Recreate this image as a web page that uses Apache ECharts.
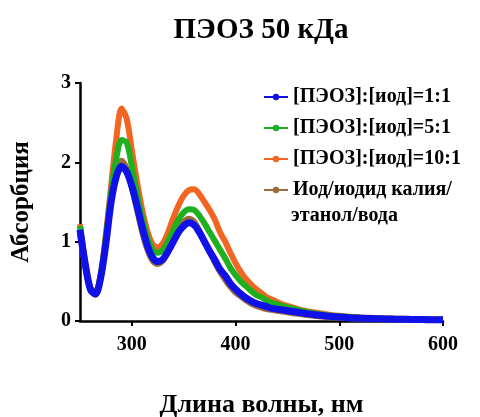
<!DOCTYPE html>
<html>
<head>
<meta charset="utf-8">
<script src="https://cdn.jsdelivr.net/npm/echarts@6/dist/echarts.min.js"></script>
<style>html,body{margin:0;padding:0;background:#fff}#c{width:480px;height:417px}</style>
</head>
<body>
<div id="c"></div>
<script>
const wavelengths = [250,255,260,265,270,275,280,285,290,295,300,305,310,315,320,325,330,335,340,345,350,355,360,365,370,375,380,385,390,395,400,405,410,415,420,425,430,435,440,445,450,460,470,480,490,500,510,520,530,540,550,560,570,580,590,600];
const ratio1 = [1.15,0.72,0.40,0.34,0.55,0.98,1.50,1.82,1.95,1.88,1.70,1.45,1.18,0.95,0.80,0.75,0.78,0.88,1.00,1.12,1.20,1.24,1.21,1.12,1.00,0.88,0.77,0.65,0.57,0.47,0.40,0.34,0.29,0.25,0.22,0.20,0.18,0.16,0.15,0.14,0.13,0.11,0.09,0.075,0.06,0.05,0.04,0.035,0.03,0.028,0.025,0.022,0.02,0.018,0.016,0.015];
const ratio5 = [1.20,0.73,0.41,0.36,0.58,1.05,1.62,2.05,2.28,2.25,1.95,1.60,1.30,1.05,0.90,0.86,0.90,1.01,1.15,1.28,1.37,1.41,1.40,1.33,1.23,1.12,1.01,0.90,0.79,0.67,0.58,0.50,0.44,0.38,0.33,0.30,0.26,0.23,0.21,0.19,0.17,0.14,0.11,0.09,0.07,0.06,0.05,0.04,0.035,0.03,0.027,0.024,0.022,0.02,0.018,0.016];
const ratio10 = [1.22,0.74,0.42,0.37,0.60,1.10,1.70,2.30,2.68,2.55,2.15,1.75,1.40,1.13,0.97,0.93,0.98,1.12,1.30,1.46,1.58,1.65,1.66,1.60,1.50,1.40,1.28,1.12,1.00,0.86,0.73,0.62,0.53,0.46,0.40,0.35,0.30,0.27,0.24,0.21,0.19,0.15,0.12,0.10,0.08,0.065,0.055,0.045,0.04,0.035,0.03,0.027,0.024,0.022,0.02,0.018];
const iodine = [1.10,0.70,0.39,0.33,0.55,1.00,1.55,1.90,2.02,1.92,1.68,1.40,1.12,0.90,0.76,0.72,0.76,0.88,1.02,1.15,1.25,1.29,1.25,1.14,1.00,0.87,0.74,0.62,0.52,0.43,0.36,0.31,0.26,0.22,0.19,0.17,0.15,0.14,0.13,0.12,0.11,0.09,0.075,0.06,0.05,0.04,0.035,0.03,0.025,0.022,0.02,0.018,0.016,0.014,0.013,0.012];
const seriesNames = ['[ПЭОЗ]:[иод]=1:1','[ПЭОЗ]:[иод]=5:1','[ПЭОЗ]:[иод]=10:1','Иод/иодид калия/'];
const xTicks = [300,400,500,600];
const yTicks = [0,1,2,3];

const FONT = "'Liberation Serif', 'Times New Roman', serif";
function pairs(v){ return wavelengths.map((w,i)=>[w,v[i]]); }
function mk(name, data, color, z, w){
  return {name, type:'line', data:pairs(data), smooth:0.3, symbol:'circle', symbolSize:7, showSymbol:false,
    lineStyle:{width:w,color}, itemStyle:{color}, z, animation:false};
}
const chart = echarts.init(document.getElementById('c'));
chart.setOption({
  animation:false,
  grid:{left:80,right:37,top:83,bottom:96,outerBoundsMode:'none',containLabel:false},
  graphic:[
    {type:'text', x:261, y:31, style:{text:'ПЭОЗ 50 кДа', font:'bold 29px '+FONT, fill:'#000', textAlign:'center', textVerticalAlign:'middle'}},
    {type:'text', x:291, y:216, style:{text:'этанол/вода', font:'bold 20px '+FONT, fill:'#000', textAlign:'left', textVerticalAlign:'middle'}}
  ],
  legend:{orient:'vertical', left:258, top:82, itemWidth:24, itemHeight:8, itemGap:11,
    data:[seriesNames[0],seriesNames[1],seriesNames[2],seriesNames[3]],
    textStyle:{fontFamily:FONT, fontWeight:'bold', fontSize:20, color:'#000'}},
  xAxis:{type:'value', min:250, max:600,
    name:'Длина волны, нм', nameLocation:'middle', nameGap:71,
    nameTextStyle:{fontFamily:FONT, fontWeight:'bold', fontSize:26, color:'#000'},
    axisLine:{lineStyle:{color:'#000', width:2.5}},
    axisTick:{customValues:xTicks, length:5, lineStyle:{color:'#000', width:2}},
    axisLabel:{customValues:xTicks, margin:14, fontFamily:FONT, fontWeight:'bold', fontSize:20, color:'#000'},
    splitLine:{show:false}},
  yAxis:{type:'value', min:0, max:3, interval:1,
    name:'Абсорбция', nameLocation:'middle', nameGap:46, nameRotate:90,
    nameTextStyle:{fontFamily:FONT, fontWeight:'bold', fontSize:25, color:'#000'},
    axisLine:{show:true, lineStyle:{color:'#000', width:2.5}},
    axisTick:{show:true, length:5, lineStyle:{color:'#000', width:2}},
    axisLabel:{margin:9, fontFamily:FONT, fontWeight:'bold', fontSize:20, color:'#000'},
    splitLine:{show:false}},
  series:[
    mk(seriesNames[3], iodine, '#9b6b3c', 1, 6),
    mk(seriesNames[2], ratio10, '#f26522', 2, 6),
    mk(seriesNames[1], ratio5, '#1fb01f', 3, 6),
    mk(seriesNames[0], ratio1, '#1010e8', 4, 7)
  ]
});
</script>
</body>
</html>
